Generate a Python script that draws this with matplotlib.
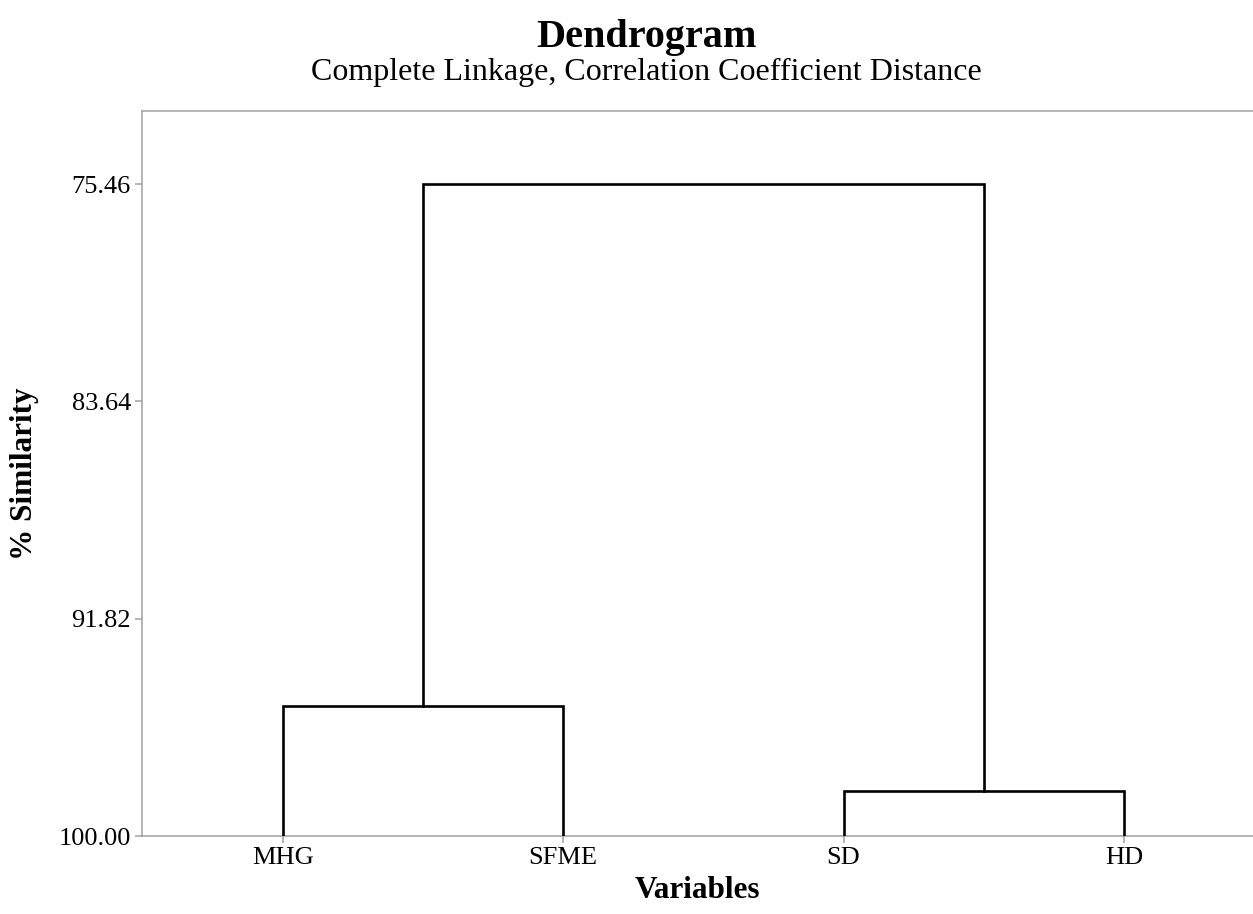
import matplotlib
matplotlib.use("Agg")
import matplotlib.pyplot as plt

plt.rcParams['font.family'] = ['Liberation Serif', 'DejaVu Serif']

# leaves and merges (scipy-style: new cluster ids start at len(labels))
labels = ["MHG", "SFME", "SD", "HD"]
merge_pairs = [(0, 1), (2, 3), (4, 5)]
merge_sim = [95.11, 98.31, 75.46]
yticks = [75.46, 83.64, 91.82, 100.00]

fig = plt.figure(figsize=(12.53, 9.14), dpi=100)
ax = fig.add_axes([0.1133, 0.0853, 0.8867, 0.7933])

# positions of nodes: leaves at 1..n, similarity 100
pos = {i: (i + 1, 100.0) for i in range(len(labels))}
for k, (a, b) in enumerate(merge_pairs):
    xa, ya = pos[a]
    xb, yb = pos[b]
    h = merge_sim[k]
    ax.plot([xa, xa, xb, xb], [ya, h, h, yb], color='black', lw=1.9,
            solid_joinstyle='miter', zorder=3)
    pos[len(labels) + k] = ((xa + xb) / 2, h)

ax.set_xlim(0.497, 4.461)
ax.set_ylim(100.0, 72.71)
ax.set_xticks(range(1, len(labels) + 1))
ax.set_xticklabels(labels)
ax.set_yticks(yticks)
ax.set_yticklabels([f"{v:.2f}" for v in yticks])

for s in ['left', 'top', 'bottom']:
    ax.spines[s].set_color('#a0a0a0')
    ax.spines[s].set_linewidth(1.1)
ax.spines['right'].set_visible(False)
ax.tick_params(axis='both', colors='#a0a0a0', length=5, width=1.1,
               labelsize=19, labelcolor='black', pad=3)

ax.set_xlabel("Variables", fontsize=22.5, fontweight='bold', labelpad=5)
ax.set_ylabel("% Similarity", fontsize=22.5, fontweight='bold', labelpad=14)

fig.text(0.516, 0.949, "Dendrogram", ha='center', va='baseline',
         fontsize=29, fontweight='bold')
fig.text(0.516, 0.913, "Complete Linkage, Correlation Coefficient Distance",
         ha='center', va='baseline', fontsize=23)

fig.savefig("out.png", dpi=100)
